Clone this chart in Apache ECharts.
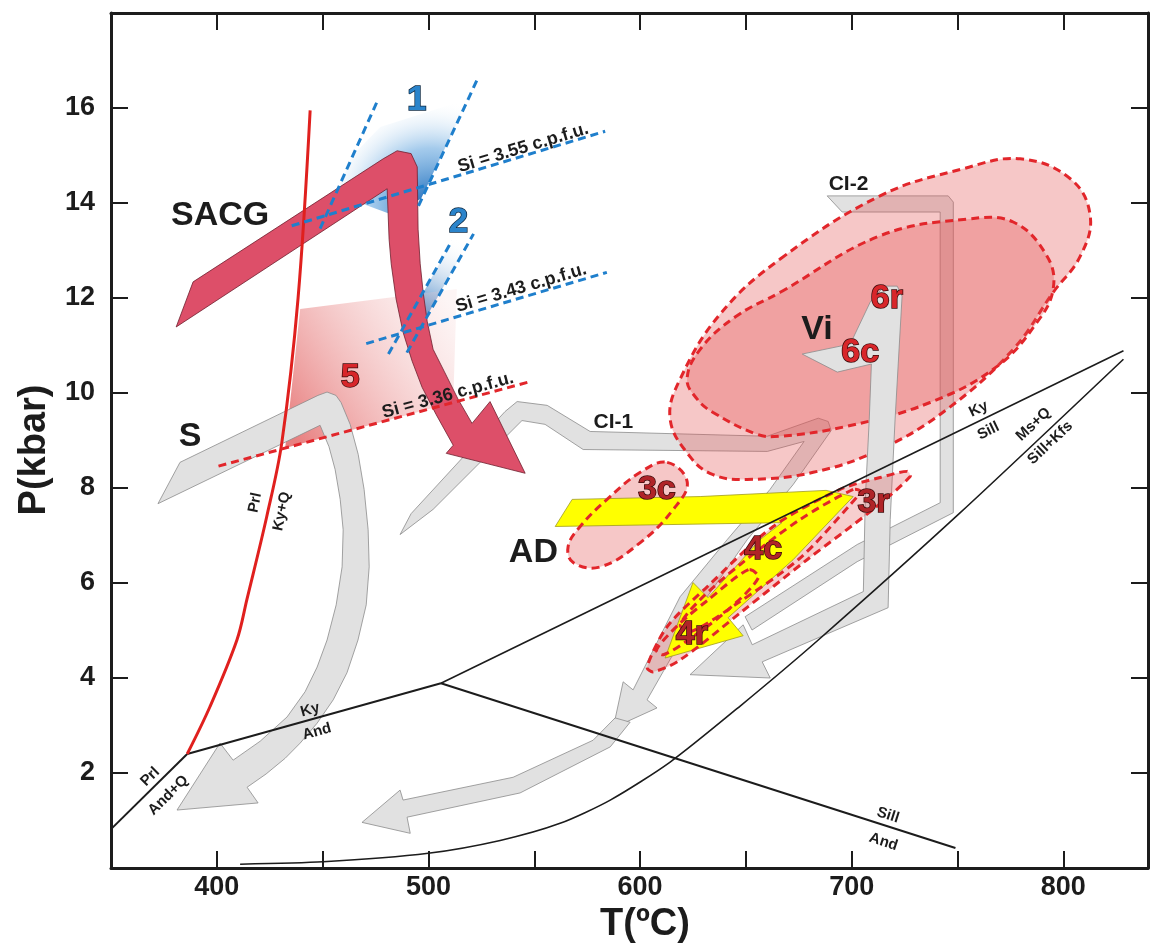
<!DOCTYPE html>
<html><head><meta charset="utf-8">
<script src="https://cdn.jsdelivr.net/npm/echarts/dist/echarts.min.js"></script>
<style>html,body{margin:0;padding:0;background:#fff}#c{width:1160px;height:947px}</style>
</head><body><div id="c"></div>
<script>
// ---------- axis ticks ----------
const xLabelValues = [400, 500, 600, 700, 800];
const yLabelValues = [2, 4, 6, 8, 10, 12, 14, 16];

// ---------- reaction curves (T °C, P kbar) ----------
const prlKyQ  = [[444.1,15.95],[438.4,12.0],[430.7,8.95],[423.6,7.4],[414.2,5.65],[409.5,4.8],[396.8,3.4],[386,2.4]];
const prlAndQ = [[350.5,0.84],[386,2.4]];
const kyAnd   = [[386,2.4],[505.9,3.89]];
const kySill  = [[505.9,3.89],[828.4,10.89]];
const sillAnd = [[505.9,3.89],[749,0.42]];
const msQ     = [[411,0.08],[450.2,0.13],[499.9,0.31],[533.9,0.58],[562.2,0.94],[585.9,1.43],[614.2,2.23],[647.3,3.41],[684.2,4.80],[751.3,7.48],[828.4,10.71]];

// ---------- Si isopleths ----------
const si355 = [[435.4,13.52],[583.5,15.51]];
const si343 = [[470.6,11.04],[584.3,12.54]];
const si336 = [[400.8,8.46],[548.9,10.25]];
const steep1L = [[448.8,13.46],[476.4,16.20]];
const steep1R = [[495.3,13.94],[523.6,16.65]];
const steep2L = [[481.1,10.82],[511.1,13.21]];
const steep2R = [[489.8,10.85],[521.3,13.35]];

// ---------- shaded fields ----------
const blueZone1 = [[456.4,14.19],[463.9,14.99],[477.2,15.60],[518.8,16.19],[496.5,14.09],[481.9,13.77]];
const blueZone2 = [[490.4,11.55],[511.2,13.20],[521.1,13.35],[498.4,11.55]];
const zone5 = [[439.4,11.77],[513.4,12.19],[511.7,9.80],[432.3,8.84]];

// ---------- P-T paths ----------
const pathSACG = [[380.8,11.39],[388.8,12.34],[478.6,14.93],[485.2,15.10],[491.8,15.04],[494.7,14.76],[495.1,13.45],[496.1,12.72],[497.5,12.12],[499.4,11.51],[502.2,10.92],[507.4,10.46],[514.0,9.87],[520.6,9.36],[529.1,9.82],[545.7,8.31],[508.4,8.73],[511.7,8.90],[503.6,9.55],[497.0,10.12],[492.3,10.67],[488.0,11.28],[484.7,11.98],[482.4,12.72],[481.4,13.24],[480.5,14.30]];
const pathS = [[372.2,7.67],[382.6,8.54],[447.8,9.95],[452.1,10.02],[456.3,9.95],[458.7,9.80],[463.0,9.34],[466.8,8.71],[469.6,7.97],[471.5,7.12],[472.0,6.34],[470.6,5.54],[466.7,4.80],[461.5,4.11],[455.0,3.54],[447.4,3.05],[439.4,2.63],[432.3,2.31],[423.3,1.98],[414.3,1.70],[419.5,1.37],[381.2,1.22],[401.5,2.63],[407.7,2.27],[420.5,2.67],[433.2,3.18],[441.7,3.71],[447.4,4.23],[452.1,4.80],[456.4,5.54],[459.2,6.34],[459.7,7.12],[458.3,7.76],[455.9,8.39],[453.0,8.87],[448.8,9.32]];
const pathCI1 = [[486.6,7.02],[491.8,7.46],[536.2,9.61],[541.9,9.82],[556.1,9.74],[576.4,9.19],[660.1,9.09],[684.2,9.47],[688.9,9.40],[690.3,9.21],[672.3,8.07],[650.6,6.91],[628.4,5.50],[603.3,3.54],[608.0,3.37],[587.3,2.95],[592.0,3.92],[596.7,3.75],[618.9,5.71],[641.1,6.91],[661.4,7.97],[677.5,8.98],[660.1,8.77],[573.1,8.81],[555.1,9.34],[544.2,9.42],[502.2,7.55]];
const pathCI2 = [[688.4,14.15],[745.6,14.15],[748.0,14.02],[748.0,7.48],[702.6,6.45],[652.9,5.01],[649.6,5.29],[702.6,6.81],[741.8,7.69],[741.8,13.81],[695.5,13.81]];
const pathVi = [[676.6,10.82],[699.3,11.03],[708.7,11.91],[715.3,12.25],[721.5,12.25],[723.8,12.04],[720.5,9.45],[718.2,7.34],[717.2,5.48],[657.7,4.34],[661.5,4.00],[623.6,4.07],[648.7,5.12],[653.0,4.70],[705.5,5.82],[706.4,7.76],[708.3,9.45],[709.3,10.61],[693.2,10.44]];
const pathLow = [[588.2,3.16],[577.8,2.69],[540.0,1.91],[488.0,1.43],[486.6,1.64],[468.6,0.96],[491.4,0.73],[489.9,1.07],[543.3,1.58],[585.9,2.55],[595.3,3.07]];
const pathAD = [[559.9,7.19],[567.9,7.76],[628.4,7.82],[687.9,7.95],[700.7,7.82],[672.3,6.49],[641.6,5.27],[648.7,4.89],[611.8,4.42],[625.0,6.01],[632.1,5.69],[656.6,6.91],[667.0,7.27]];

// ---------- dashed P-T fields ----------
const fieldOuter = [[666.2,12.82],[713.4,14.15],[752.6,14.72],[779.6,14.93],[803.3,14.51],[812.7,13.73],[808.0,12.88],[795.2,12.12],[776.3,10.92],[745.1,9.66],[713.4,8.81],[681.8,8.33],[650.6,8.18],[634.5,8.28],[623.6,8.66],[614.2,9.45],[618.9,10.29],[637.8,11.66]];
const fieldInner = [[666.2,12.12],[713.4,13.31],[754.5,13.66],[776.3,13.60],[792.3,12.88],[795.2,12.19],[787.6,11.49],[768.7,10.56],[737.0,9.80],[697.8,9.30],[666.2,9.09],[655.3,9.13],[634.5,9.59],[627.0,9.87],[622.2,10.29],[628.4,10.92],[644.9,11.60]];
const field3c = [[612.8,8.54],[622.3,8.12],[615.7,7.55],[600.1,6.85],[581.2,6.34],[568.4,6.43],[566.0,6.77],[571.7,7.19],[584.4,7.76],[600.1,8.33]];
const field34 = [[726.2,8.35],[713.4,8.22],[694.5,7.97],[662.9,7.19],[631.7,5.92],[612.8,5.08],[603.3,4.23],[606.2,4.13],[618.9,4.38],[647.3,5.37],[678.9,6.49],[710.1,7.55],[727.6,8.24]];
const field4c = [[700.7,7.97],[675.7,7.34],[647.3,6.39],[628.4,5.65],[619.0,5.12],[623.7,4.97],[644.9,5.54],[675.7,6.53],[699.3,7.65],[704.0,7.93]];
const field4r = [[651.2,6.28],[632.3,5.65],[618.1,5.12],[607.7,4.59],[611.0,4.49],[622.8,4.80],[641.7,5.44],[655.9,6.11]];

// ---------- labels [T, P, text, line followed] ----------
const darkLabels = [[401.6,13.74,'SACG'],[387.4,9.09,'S'],[549.6,6.64,'AD'],[683.6,11.34,'Vi']];
const ciLabels = [[587.4,9.38,'CI-1'],[698.5,14.40,'CI-2']];
const blueNums = [[494.5,16.16,'1'],[514.2,13.59,'2']];
const redNums = [[463.0,10.32,'5'],[716.6,11.98,'6r'],[704.0,10.85,'6c']];
const darkRedNums = [[607.9,7.97,'3c'],[710.3,7.69,'3r'],[658.2,6.70,'4c'],[624.5,4.91,'4r']];
const siLabels = [[544.8,15.16,'Si = 3.55 c.p.f.u.','si355'],[543.8,12.21,'Si = 3.43 c.p.f.u.','si343'],[509.2,9.95,'Si = 3.36 c.p.f.u.','si336']];
const reactionLabels = [
  [418.1,7.69,'Prl','prlKyQ'],[430.7,7.51,'Ky+Q','prlKyQ'],
  [368.5,1.92,'Prl','prlAndQ'],[377.1,1.53,'And+Q','prlAndQ'],
  [444.1,3.33,'Ky','kyAnd'],[447.3,2.87,'And','kyAnd'],
  [717.1,1.11,'Sill','sillAnd'],[715.0,0.55,'And','sillAnd'],
  [759.9,9.66,'Ky','kySill'],[764.6,9.20,'Sill','kySill'],
  [785.9,9.34,'Ms+Q','msQ'],[793.8,8.95,'Sill+Kfs','msQ']
];
const lines = {prlKyQ, prlAndQ, kyAnd, kySill, sillAnd, msQ, si355, si343, si336};

// ---------- rendering ----------
const FONT = '"Liberation Sans", Arial, sans-serif';
const INK = '#1c1c1c';
const chart = echarts.init(document.getElementById('c'), null, {renderer: 'canvas'});

function segDist(p, a, b) {
  const dx = b[0]-a[0], dy = b[1]-a[1];
  const L = dx*dx + dy*dy || 1;
  let t = ((p[0]-a[0])*dx + (p[1]-a[1])*dy) / L;
  t = Math.max(0, Math.min(1, t));
  return Math.hypot(p[0]-(a[0]+t*dx), p[1]-(a[1]+t*dy));
}
function lineAngle(line, p, api) {
  const px = line.map(q => api.coord(q));
  let best = Infinity, ang = 0;
  for (let i = 0; i < px.length-1; i++) {
    const d = segDist(p, px[i], px[i+1]);
    if (d < best) { best = d; ang = Math.atan2(-(px[i+1][1]-px[i][1]), px[i+1][0]-px[i][0]); }
  }
  if (ang > Math.PI/2) ang -= Math.PI;
  if (ang < -Math.PI/2) ang += Math.PI;
  return ang;
}
function poly(pts, style, z, smooth) {
  return {
    type: 'custom', z: z, silent: true, clip: false,
    data: pts, encode: {x: 0, y: 1},
    renderItem: function (params, api) {
      if (params.dataIndex !== 0) return null;
      return {type: 'polygon', shape: {points: pts.map(p => api.coord(p)), smooth: smooth || 0}, style: style};
    }
  };
}
function line(data, color, width, dash, z, smooth) {
  return {
    type: 'line', data: data, z: z, silent: true, symbol: 'none', showSymbol: false,
    smooth: smooth || false, lineStyle: {color: color, width: width, type: dash || 'solid'}
  };
}
function texts(items, style, z) {
  return {
    type: 'custom', z: z, silent: true, clip: false,
    data: items.map(d => [d[0], d[1]]), encode: {x: 0, y: 1},
    renderItem: function (params, api) {
      const d = items[params.dataIndex];
      const p = api.coord([d[0], d[1]]);
      const rot = d[3] ? lineAngle(lines[d[3]], p, api) : 0;
      return {type: 'text', x: p[0], y: p[1], rotation: rot,
        style: Object.assign({text: d[2], align: 'center', verticalAlign: 'middle', fontFamily: FONT}, style)};
    }
  };
}

const G = echarts.graphic;
const grayStyle = {fill: '#e1e1e1', stroke: '#8c8c8c', lineWidth: 0.8};
const fieldFill = 'rgba(226,80,80,0.32)';
const redDash = '#e2262b';
const dashStyle = {fill: null, stroke: redDash, lineWidth: 3, lineDash: [8, 5]};

const series = [
  poly(blueZone1, {fill: new G.RadialGradient(0.72, 0.95, 0.95, [{offset: 0, color: 'rgba(12,95,180,1)'}, {offset: 0.55, color: 'rgba(90,160,220,0.55)'}, {offset: 1, color: 'rgba(255,255,255,0)'}])}, 1),
  poly(blueZone2, {fill: new G.LinearGradient(0, 1, 0.6, 0, [{offset: 0, color: 'rgba(12,95,180,1)'}, {offset: 1, color: 'rgba(255,255,255,0)'}])}, 1),
  poly(zone5, {fill: new G.LinearGradient(0, 0.85, 1, 0.15, [{offset: 0, color: 'rgba(228,105,105,0.85)'}, {offset: 1, color: 'rgba(245,205,205,0.2)'}])}, 1),

  poly(pathS, grayStyle, 2),
  poly(pathCI1, grayStyle, 2),
  poly(pathCI2, grayStyle, 2),
  poly(pathLow, grayStyle, 2),

  poly(fieldOuter, {fill: fieldFill, stroke: redDash, lineWidth: 3, lineDash: [8, 5]}, 3, 0.4),
  poly(fieldInner, {fill: fieldFill, stroke: redDash, lineWidth: 3, lineDash: [8, 5]}, 3, 0.4),

  poly(pathVi, grayStyle, 4),
  poly(field3c, {fill: fieldFill}, 4, 0.4),
  poly(field34, {fill: 'rgba(226,80,80,0.28)'}, 4, 0.3),

  poly(pathAD, {fill: '#ffff00', stroke: '#a09a20', lineWidth: 0.8}, 5),

  poly(field3c, dashStyle, 6, 0.4),
  poly(field34, dashStyle, 6, 0.3),
  poly(field4c, dashStyle, 6, 0.3),
  poly(field4r, dashStyle, 6, 0.3),

  poly(pathSACG, {fill: '#dd4f69', stroke: '#6e1f2e', lineWidth: 0.8}, 7),

  line(prlAndQ, INK, 2, 'solid', 8),
  line(kyAnd, INK, 2, 'solid', 8),
  line(kySill, INK, 1.6, 'solid', 8),
  line(sillAnd, INK, 2, 'solid', 8),
  line(msQ, INK, 1.6, 'solid', 8, 0.25),
  line(prlKyQ, '#e0201e', 3, 'solid', 8, 0.35),

  line(si355, '#1f7fcc', 3, [8, 5], 9),
  line(si343, '#1f7fcc', 3, [8, 5], 9),
  line(steep1L, '#1f7fcc', 3, [8, 5], 9),
  line(steep1R, '#1f7fcc', 3, [8, 5], 9),
  line(steep2L, '#1f7fcc', 3, [8, 5], 9),
  line(steep2R, '#1f7fcc', 3, [8, 5], 9),
  line(si336, redDash, 3, [8, 5], 9),

  texts(darkLabels, {fontSize: 34, fontWeight: 'bold', fill: INK}, 10),
  texts(ciLabels, {fontSize: 21, fontWeight: 'bold', fill: INK}, 10),
  texts(blueNums, {fontSize: 35, fontWeight: 'bold', fill: '#2b84cb', stroke: '#0b2740', lineWidth: 1.5}, 10),
  texts(redNums, {fontSize: 34, fontWeight: 'bold', fill: '#d8262a', stroke: '#3a0a0a', lineWidth: 1.5}, 10),
  texts(darkRedNums, {fontSize: 34, fontWeight: 'bold', fill: '#b02428', stroke: '#3a0a0a', lineWidth: 1.5}, 10),
  texts(siLabels, {fontSize: 18, fontWeight: 'bold', fill: INK}, 10),
  texts(reactionLabels, {fontSize: 15, fontWeight: 'bold', fill: INK}, 10)
];

const axisCommon = {
  type: 'value',
  axisLine: {show: true, onZero: false, lineStyle: {color: INK, width: 3}},
  axisTick: {show: true, inside: true, length: 17, lineStyle: {color: INK, width: 2}},
  splitLine: {show: false}
};

const option = {
  animation: false,
  backgroundColor: '#ffffff',
  grid: {left: 111, right: 12, top: 13, bottom: 79, containLabel: false},
  xAxis: [
    Object.assign({}, axisCommon, {position: 'bottom', min: 350, max: 840, interval: 50,
      axisLabel: {margin: 6, fontSize: 27, fontWeight: 'bold', color: INK, fontFamily: FONT,
        formatter: v => xLabelValues.includes(v) ? String(v) : ''}}),
    Object.assign({}, axisCommon, {position: 'top', min: 350, max: 840, interval: 50, axisLabel: {show: false}})
  ],
  yAxis: [
    Object.assign({}, axisCommon, {position: 'left', min: 0, max: 18, interval: 2,
      axisLabel: {margin: 16, fontSize: 27, fontWeight: 'bold', color: INK, fontFamily: FONT,
        formatter: v => yLabelValues.includes(v) ? String(v) : ''}}),
    Object.assign({}, axisCommon, {position: 'right', min: 0, max: 18, interval: 2, axisLabel: {show: false}})
  ],
  graphic: [
    {type: 'text', x: 645, y: 925, style: {text: 'T(ºC)', fontSize: 38, fontWeight: 'bold', fontFamily: FONT, fill: INK, align: 'center', verticalAlign: 'middle'}},
    {type: 'text', x: 35, y: 450, rotation: Math.PI / 2, style: {text: 'P(kbar)', fontSize: 38, fontWeight: 'bold', fontFamily: FONT, fill: INK, align: 'center', verticalAlign: 'middle'}}
  ],
  series: series
};
chart.setOption(option);
</script>
</body></html>
